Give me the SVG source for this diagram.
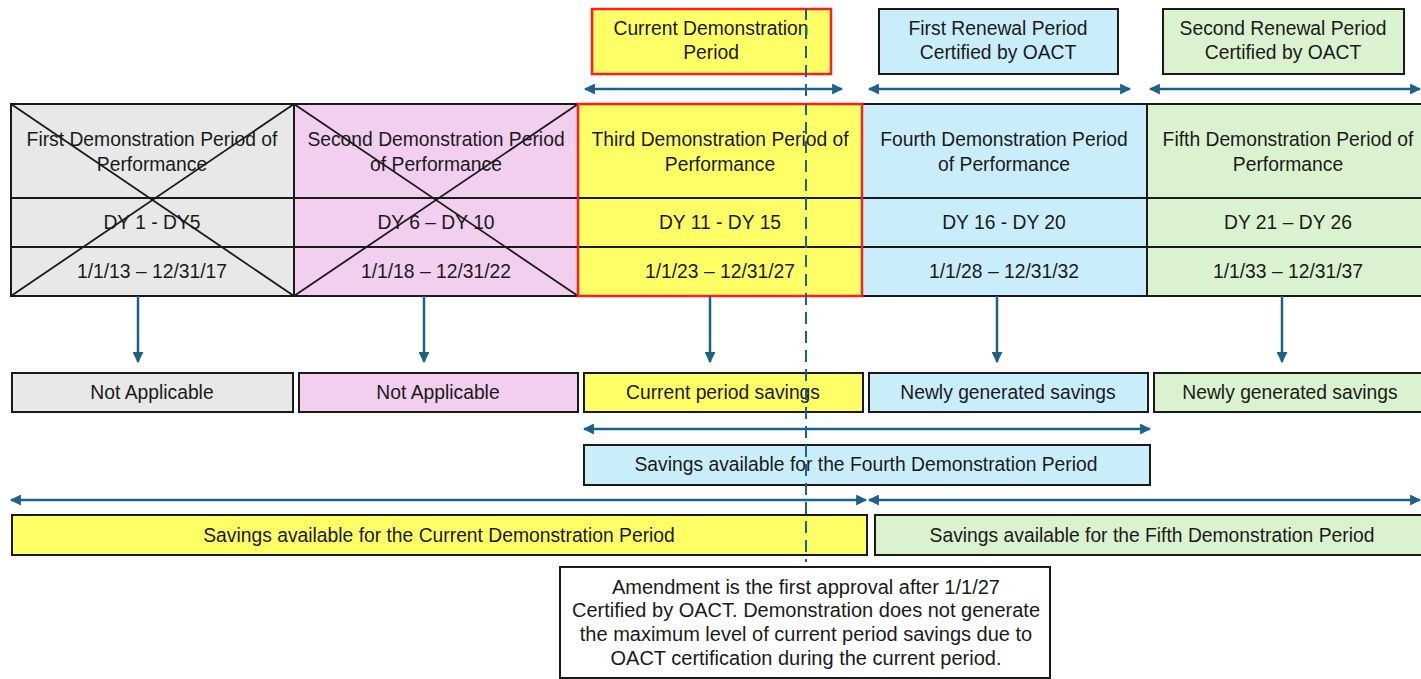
<svg xmlns="http://www.w3.org/2000/svg" width="1421" height="679" viewBox="0 0 1421 679">
<defs>
<marker id="ah" viewBox="0 0 10 10" refX="9" refY="5" markerWidth="4.4" markerHeight="4.4" orient="auto-start-reverse" markerUnits="strokeWidth">
<path d="M0,0 L10,5 L0,10 z" fill="#1D6287"/>
</marker>
<style>
text{font-family:"Liberation Sans",Arial,sans-serif;font-size:19.3px;fill:#1a1a1a;text-anchor:middle;dominant-baseline:central}
.n{font-size:20px}
.b{stroke:#1a1a1a;stroke-width:2}
.r{stroke:#ff1e1e;stroke-width:2.5}
.gray{fill:#E8E8E8}.pink{fill:#F2CEEF}.yel{fill:#FFFF66}.blue{fill:#CAEDFB}.grn{fill:#DAF2D0}
.c{stroke:#1D6287;stroke-width:2.5;fill:none}
.x{stroke:#1a1a1a;stroke-width:1.8}
</style>
</defs>
<rect width="1421" height="679" fill="#fff"/>

<g id="top-current"><rect x="592" y="9" width="239" height="65" class="yel r"/><text x="711" y="28">Current Demonstration</text><text x="711" y="52">Period</text></g>
<g id="top-first-renewal"><rect x="879" y="9" width="239" height="65" class="blue b"/><text x="998" y="28">First Renewal Period</text><text x="998" y="52">Certified by OACT</text></g>
<g id="top-second-renewal"><rect x="1163" y="9" width="241" height="65" class="grn b"/><text x="1283" y="28">Second Renewal Period</text><text x="1283" y="52">Certified by OACT</text></g>

<g id="col1">
<rect x="11" y="104" width="283" height="192" class="gray b"/>
<line x1="11" y1="198" x2="294" y2="198" class="b"/><line x1="11" y1="247" x2="294" y2="247" class="b"/>
<text x="152" y="139">First Demonstration Period of</text><text x="152" y="164">Performance</text>
<text x="152" y="222">DY 1 - DY5</text><text x="152" y="271">1/1/13 – 12/31/17</text>
<line x1="11" y1="104" x2="294" y2="296" class="x"/><line x1="294" y1="104" x2="11" y2="296" class="x"/>
</g>
<g id="col2">
<rect x="294" y="104" width="284" height="192" class="pink b"/>
<line x1="294" y1="198" x2="578" y2="198" class="b"/><line x1="294" y1="247" x2="578" y2="247" class="b"/>
<text x="436" y="139">Second Demonstration Period</text><text x="436" y="164">of Performance</text>
<text x="436" y="222">DY 6 – DY 10</text><text x="436" y="271">1/1/18 – 12/31/22</text>
<line x1="294" y1="104" x2="578" y2="296" class="x"/><line x1="578" y1="104" x2="294" y2="296" class="x"/>
</g>
<g id="col4">
<rect x="862" y="104" width="285" height="192" class="blue b"/>
<line x1="862" y1="198" x2="1147" y2="198" class="b"/><line x1="862" y1="247" x2="1147" y2="247" class="b"/>
<text x="1004" y="139">Fourth Demonstration Period</text><text x="1004" y="164">of Performance</text>
<text x="1004" y="222">DY 16 - DY 20</text><text x="1004" y="271">1/1/28 – 12/31/32</text>
</g>
<g id="col5">
<rect x="1147" y="104" width="280" height="192" class="grn b"/>
<line x1="1147" y1="198" x2="1421" y2="198" class="b"/><line x1="1147" y1="247" x2="1421" y2="247" class="b"/>
<text x="1288" y="139">Fifth Demonstration Period of</text><text x="1288" y="164">Performance</text>
<text x="1288" y="222">DY 21 – DY 26</text><text x="1288" y="271">1/1/33 – 12/31/37</text>
</g>
<g id="col3">
<rect x="578" y="104" width="284" height="192" class="yel r"/>
<line x1="579" y1="198" x2="861" y2="198" class="b"/><line x1="579" y1="247" x2="861" y2="247" class="b"/>
<text x="720" y="139">Third Demonstration Period of</text><text x="720" y="164">Performance</text>
<text x="720" y="222">DY 11 - DY 15</text><text x="720" y="271">1/1/23 – 12/31/27</text>
</g>

<g id="out1"><rect x="12" y="373" width="281" height="39" class="gray b"/><text x="152" y="392">Not Applicable</text></g>
<g id="out2"><rect x="299" y="373" width="279" height="39" class="pink b"/><text x="438" y="392">Not Applicable</text></g>
<g id="out3"><rect x="584" y="373" width="279" height="39" class="yel b"/><text x="723" y="392">Current period savings</text></g>
<g id="out4"><rect x="869" y="373" width="279" height="39" class="blue b"/><text x="1008" y="392">Newly generated savings</text></g>
<g id="out5"><rect x="1154" y="373" width="272" height="39" class="grn b"/><text x="1290" y="392">Newly generated savings</text></g>

<g id="sav4"><rect x="584" y="445" width="566" height="40" class="blue b"/><text x="866" y="464">Savings available for the Fourth Demonstration Period</text></g>
<g id="savcur"><rect x="12" y="515" width="855" height="40" class="yel b"/><text x="439" y="535">Savings available for the Current Demonstration Period</text></g>
<g id="sav5"><rect x="875" y="515" width="552" height="40" class="grn b"/><text x="1152" y="535">Savings available for the Fifth Demonstration Period</text></g>

<g id="note"><rect x="560" y="567" width="490" height="111" fill="#fff" class="b"/>
<text class="n" x="806" y="587">Amendment is the first approval after 1/1/27</text>
<text class="n" x="806" y="610">Certified by OACT. Demonstration does not generate</text>
<text class="n" x="806" y="634">the maximum level of current period savings due to</text>
<text class="n" x="806" y="658">OACT certification during the current period.</text>
</g>

<g id="connectors">
<line x1="585" y1="89" x2="842" y2="89" class="c" marker-start="url(#ah)" marker-end="url(#ah)"/>
<line x1="869" y1="89" x2="1130" y2="89" class="c" marker-start="url(#ah)" marker-end="url(#ah)"/>
<line x1="1150" y1="89" x2="1420" y2="89" class="c" marker-start="url(#ah)" marker-end="url(#ah)"/>
<line x1="138" y1="296" x2="138" y2="362" class="c" stroke-width="2" marker-end="url(#ah)"/>
<line x1="424" y1="296" x2="424" y2="362" class="c" stroke-width="2" marker-end="url(#ah)"/>
<line x1="710" y1="296" x2="710" y2="362" class="c" stroke-width="2" marker-end="url(#ah)"/>
<line x1="997" y1="296" x2="997" y2="362" class="c" stroke-width="2" marker-end="url(#ah)"/>
<line x1="1282" y1="296" x2="1282" y2="362" class="c" stroke-width="2" marker-end="url(#ah)"/>
<line x1="584" y1="429" x2="1150" y2="429" class="c" marker-start="url(#ah)" marker-end="url(#ah)"/>
<line x1="11" y1="500" x2="866" y2="500" class="c" marker-start="url(#ah)" marker-end="url(#ah)"/>
<line x1="869" y1="500" x2="1420" y2="500" class="c" marker-start="url(#ah)" marker-end="url(#ah)"/>
<line x1="806" y1="8" x2="806" y2="562" stroke="#1D6287" stroke-width="2" stroke-dasharray="12,7"/>
</g>
</svg>
